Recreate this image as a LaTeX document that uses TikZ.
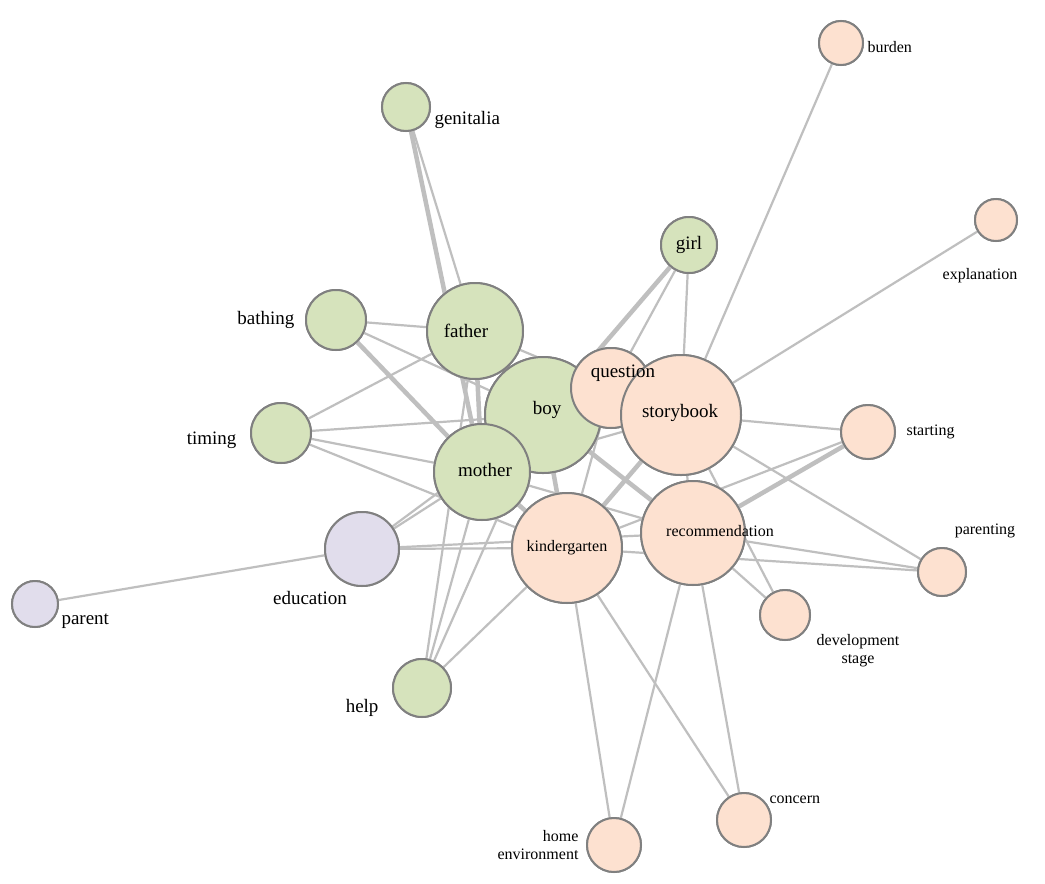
\documentclass[tikz,border=0pt]{standalone}
\usepackage{fontspec}
\setmainfont{Liberation Serif}
\begin{document}
\begin{tikzpicture}[x=1pt,y=-1pt,
 e/.style={draw=black!25,line width=2.2pt},
 E/.style={draw=black!25,line width=4.5pt},
 v/.style={circle,draw=black!50,line width=2pt,inner sep=0pt,minimum size=#1},
 g/.style={v=#1,fill={rgb,255:red,214;green,227;blue,188}},
 p/.style={v=#1,fill={rgb,255:red,253;green,225;blue,208}},
 l/.style={v=#1,fill={rgb,255:red,225;green,221;blue,236}},
 t/.style={font=\fontsize{16}{18}\selectfont,align=center},
 T/.style={font=\fontsize{19}{21}\selectfont,align=center}]
\useasboundingbox (0,0) rectangle (1045,884);
\fill[white] (0,0) rectangle (1045,884);
\node[g=48pt] (genitalia) at (406,107) {};
\node[g=56pt] (girl) at (689,245) {};
\node[p=44pt] (burden) at (841,43) {};
\node[p=42pt] (explanation) at (996,220) {};
\node[g=60pt] (bathing) at (336,320) {};
\node[g=96pt] (father) at (475,331) {};
\node[g=116pt] (boy) at (543,415) {};
\node[p=80pt] (question) at (611,388) {};
\node[p=120pt] (storybook) at (681,415) {};
\node[g=60pt] (timing) at (281,433) {};
\node[p=54pt] (starting) at (868,432) {};
\node[g=96pt] (mother) at (482,472) {};
\node[p=110pt] (kindergarten) at (567,548) {};
\node[p=104pt] (recommendation) at (693,533) {};
\node[l=74pt] (education) at (362,549) {};
\node[p=48pt] (parenting) at (942,572) {};
\node[l=46pt] (parent) at (35,604) {};
\node[p=50pt] (development) at (785,615) {};
\node[g=58pt] (help) at (422,688) {};
\node[p=54pt] (concern) at (744,820) {};
\node[p=54pt] (home) at (614,845) {};
\foreach \a/\b in {genitalia/father,bathing/father,bathing/boy,timing/father,timing/boy,timing/mother,timing/kindergarten,
 father/question,girl/storybook,girl/question,burden/storybook,explanation/storybook,starting/storybook,starting/kindergarten,
 parenting/storybook,parenting/recommendation,parenting/kindergarten,development/storybook,development/recommendation,
 education/mother,education/boy,education/kindergarten,education/recommendation,education/parent,
 help/mother,help/father,help/boy,help/kindergarten,concern/kindergarten,concern/recommendation,
 home/kindergarten,home/recommendation,question/kindergarten,mother/recommendation,mother/storybook,storybook/recommendation}
 {\draw[e] (\a) -- (\b);}
\foreach \a/\b in {genitalia/mother,bathing/mother,father/boy,father/mother,girl/boy,starting/recommendation,
 boy/kindergarten,boy/recommendation,storybook/kindergarten,mother/kindergarten}
 {\draw[E] (\a) -- (\b);}
\node[g=48pt] at (genitalia) {};
\node[g=56pt] at (girl) {};
\node[p=44pt] at (burden) {};
\node[p=42pt] at (explanation) {};
\node[g=60pt] at (bathing) {};
\node[g=96pt] at (father) {};
\node[g=116pt] at (boy) {};
\node[p=80pt] at (question) {};
\node[p=120pt] at (storybook) {};
\node[g=60pt] at (timing) {};
\node[p=54pt] at (starting) {};
\node[g=96pt] at (mother) {};
\node[p=110pt] at (kindergarten) {};
\node[p=104pt] at (recommendation) {};
\node[l=74pt] at (education) {};
\node[p=48pt] at (parenting) {};
\node[l=46pt] at (parent) {};
\node[p=50pt] at (development) {};
\node[g=58pt] at (help) {};
\node[p=54pt] at (concern) {};
\node[p=54pt] at (home) {};
\node[T] (Lgirl) at (689,245) {girl};
\node[T] (Lfather) at (466,331) {father};
\node[T] (Lboy) at (547,410) {boy};
\node[T] (Lquestion) at (623,373) {question};
\node[T] (Lstorybook) at (680,413) {storybook};
\node[T] (Lmother) at (485,470) {mother};
\node[t] (Lkindergarten) at (567,548) {kindergarten};
\node[t] (Lrec) at (720,531) {recommendation};
\node[T,anchor=west] (Lgen) at (431,120) {genitalia};
\node[t,anchor=west] (Lburden) at (864,47) {burden};
\node[t] (Lexpl) at (980,276) {explanation};
\node[T,anchor=east] (Lbath) at (298,320) {bathing};
\node[T,anchor=east] (Ltim) at (240,440) {timing};
\node[t,anchor=west] (Lstart) at (903,432) {starting};
\node[t] (Lpar) at (985,531) {parenting};
\node[T] (Ledu) at (310,598) {education};
\node[T,anchor=west] (Lparent) at (58,621) {parent};
\node[t] (Ldev) at (858,651) {development\\stage};
\node[T,anchor=east] (Lhelp) at (382,708) {help};
\node[t,anchor=west] (Lconc) at (766,800) {concern};
\node[t,align=right] (Lhome) at (538,845) {home\\environment};
\end{tikzpicture}
\end{document}
